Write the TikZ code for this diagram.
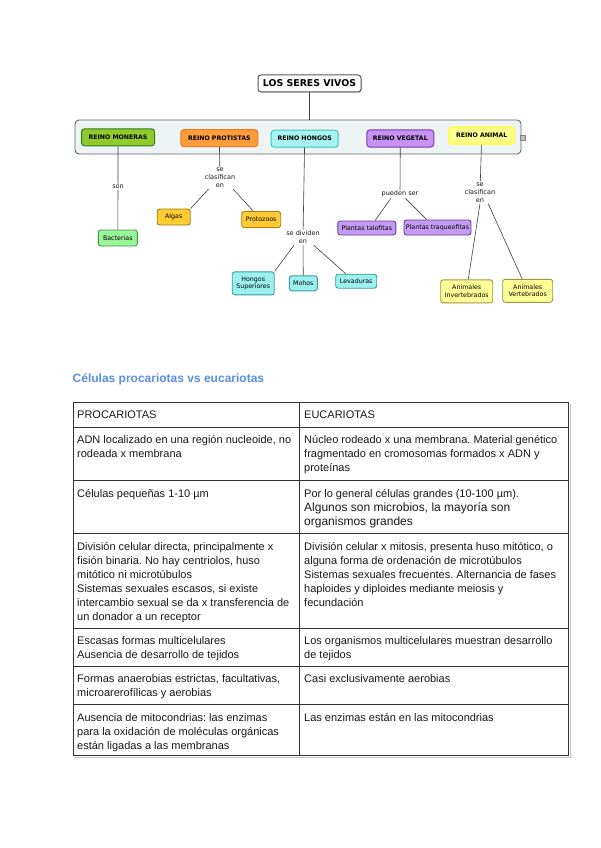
\documentclass[tikz,border=0pt]{standalone}
\usepackage{fontspec}
\setmainfont{Liberation Sans}
\newfontfamily\mapfont{DejaVu Sans}
\usetikzlibrary{calc,shadows}
\frenchspacing
\definecolor{monfill}{HTML}{8FCB2B}\definecolor{mondraw}{HTML}{2F7A1F}
\definecolor{profill}{HTML}{FF9D3C}\definecolor{prodraw}{HTML}{EE7A14}
\definecolor{honfill}{HTML}{A8F3F0}\definecolor{hondraw}{HTML}{3CC4C4}
\definecolor{vegfill}{HTML}{C792F2}\definecolor{vegdraw}{HTML}{7B3CA8}
\definecolor{anifill}{HTML}{FFFF8C}\definecolor{anidraw}{HTML}{FFFF40}
\definecolor{bacfill}{HTML}{9BF59B}\definecolor{bacdraw}{HTML}{3A9A3A}
\definecolor{algfill}{HTML}{FFCC33}\definecolor{algdraw}{HTML}{9A7A10}
\definecolor{hsfill}{HTML}{9CF0F0}\definecolor{hsdraw}{HTML}{3A9C9C}
\definecolor{plafill}{HTML}{C49AF2}\definecolor{pladraw}{HTML}{6A3E9A}
\definecolor{yelfill}{HTML}{FFFF99}\definecolor{yeldraw}{HTML}{9A9A3A}
\definecolor{grpfill}{HTML}{EEF4F5}
\definecolor{headblue}{HTML}{5B8FE3}
\begin{document}
\begin{tikzpicture}[x=1pt,y=-1pt,
  kbox/.style={draw, rounded corners=3pt, line width=1pt, inner sep=0pt, align=center,
    font=\mapfont\bfseries\fontsize{6.2}{7.5}\selectfont},
  leaf/.style={draw, rounded corners=2.5pt, line width=0.9pt, inner sep=0pt, align=center,
    font=\mapfont\fontsize{6.3}{7.6}\selectfont},
  lnk/.style={inner sep=1pt, align=center, font=\mapfont\fontsize{6.5}{8}\selectfont, text=black!90},
  conn/.style={draw=black!75, line width=0.6pt},
  cell/.style={anchor=base west, inner sep=0pt, text=black!90},
  tline/.style={draw=black!80, line width=0.9pt},
  tshadow/.style={draw=black!25, line width=1pt}
]
\useasboundingbox (0,0) rectangle (600,848);
\fill[white] (0,0) rectangle (600,848);

% ---------- concept map ----------
\node[draw=black!65, fill=white, rounded corners=3pt, line width=1pt, inner sep=0pt,
  minimum width=103, minimum height=17,
  font=\mapfont\bfseries\fontsize{9.4}{11}\selectfont,
  drop shadow={shadow xshift=1pt, shadow yshift=-1pt, opacity=0.35}] (title) at (309.5,83.5) {LOS SERES VIVOS};

\node[draw=black!60, fill=grpfill, rounded corners=4pt, line width=0.9pt, inner sep=0pt,
  minimum width=446, minimum height=34] (grp) at (298,137) {};
\node[draw=black!50, fill=black!25, minimum size=5, inner sep=0pt] (icon) at (523,137.5) {};

\node[kbox, fill=monfill, draw=mondraw, minimum width=73, minimum height=17] (mon) at (118,137.3) {REINO MONERAS};
\node[kbox, fill=profill, draw=prodraw, minimum width=77, minimum height=17] (pro) at (219.3,138.2) {REINO PROTISTAS};
\node[kbox, fill=honfill, draw=hondraw, minimum width=67, minimum height=17] (hon) at (304.7,138.7) {REINO HONGOS};
\node[kbox, fill=vegfill, draw=vegdraw, minimum width=67, minimum height=17] (veg) at (400.3,138.5) {REINO VEGETAL};
\node[kbox, fill=anifill, draw=anidraw, line width=1.5pt, minimum width=65, minimum height=17] (ani) at (481.7,135.7) {REINO ANIMAL};

\node[lnk] (son) at (118,186.7) {son};
\node[lnk] (lab1) at (220,178) {se\\clasifican\\en};
\node[lnk] (lab2) at (303,237.5) {se dividen\\en};
\node[lnk] (lab3) at (400,194) {pueden ser};
\node[lnk] (lab4) at (480,192.5) {se\\clasifican\\en};

\node[leaf, fill=bacfill, draw=bacdraw, minimum width=39, minimum height=16] (bac) at (117.8,238) {Bacterias};
\node[leaf, fill=algfill, draw=algdraw, minimum width=33, minimum height=16] (alg) at (173.7,217) {Algas};
\node[leaf, fill=algfill, draw=algdraw!70!orange, minimum width=39, minimum height=16] (prz) at (261.2,219.5) {Protozoos};
\node[leaf, fill=hsfill, draw=hsdraw, minimum width=42, minimum height=23] (hs) at (253.2,283.3) {Hongos\\Superiores};
\node[leaf, fill=hsfill, draw=hsdraw, minimum width=28, minimum height=15] (moh) at (303.3,283.3) {Mohos};
\node[leaf, fill=hsfill, draw=hsdraw, minimum width=41, minimum height=14] (lev) at (356.2,281.2) {Levaduras};
\node[leaf, fill=plafill, draw=pladraw, minimum width=58, minimum height=14] (pt1) at (366.8,228) {Plantas talofitas};
\node[leaf, fill=plafill, draw=pladraw, minimum width=67, minimum height=15] (pt2) at (437.5,227.5) {Plantas traqueofitas};
\node[leaf, fill=yelfill, draw=yeldraw, minimum width=52, minimum height=23] (inv) at (466.7,291.3) {Animales\\Invertebrados};
\node[leaf, fill=yelfill, draw=yeldraw, minimum width=50, minimum height=23] (ver) at (527.7,290.8) {Animales\\Vertebrados};

\draw[conn] (title.south) -- (title.south |- grp.north);
\draw[conn] (mon) -- (son) -- (bac);
\draw[conn] (pro) -- (lab1);
\draw[conn] ($(lab1.south)!0.7!(lab1.south west)$) -- (alg.north east);
\draw[conn] ($(lab1.south)!0.8!(lab1.south east)$) -- ($(prz.north west)!0.3!(prz.north east)$);
\draw[conn] (hon) -- (lab2);
\draw[conn] ($(lab2.south west)!0.5!(lab2.south)$) -- (hs.north east);
\draw[conn] (lab2) -- (moh);
\draw[conn] ($(lab2.south)!0.6!(lab2.south east)$) -- ($(lev.north west)!0.25!(lev.north east)$);
\draw[conn] (veg) -- (lab3);
\draw[conn] ($(lab3.south)!0.47!(lab3.south west)$) -- ($(pt1.north west)!0.64!(pt1.north east)$);
\draw[conn] ($(lab3.south)!0.28!(lab3.south east)$) -- ($(pt2.north west)!0.34!(pt2.north east)$);
\draw[conn] (ani) -- (lab4);
\draw[conn] (lab4.south) -- ($(inv.north west)!0.53!(inv.north east)$);
\draw[conn] ($(lab4.south)!0.5!(lab4.south east)$) -- ($(ver.north west)!0.39!(ver.north east)$);

% ---------- heading ----------
\node[anchor=base west, inner sep=0pt, text=headblue, font=\bfseries\fontsize{12}{14}\selectfont] (head) at (72.5,382) {Células procariotas vs eucariotas};

% ---------- table ----------
\draw[tshadow] (570,404) -- (570,757) -- (75,757);
\draw[tline] (73,402) rectangle (568,755);
\draw[tline] (299.5,402) -- (299.5,755);
\foreach \yy in {427,480,533,628,666,704} \draw[tline] (73,\yy) -- (568,\yy);

\begin{scope}[every node/.append style={font=\fontsize{11}{14}\selectfont}]
\node[cell] (a0) at (77,418) {\parbox[t]{222pt}{PROCARIOTAS}};
\node[cell] (b0) at (304,418) {\parbox[t]{262pt}{EUCARIOTAS}};
\node[cell] (a1) at (77,443) {\parbox[t]{222pt}{ADN localizado en una región nucleoide, no\\rodeada x membrana}};
\node[cell] (b1) at (304,443) {\parbox[t]{262pt}{Núcleo rodeado x una membrana. Material genético\\fragmentado en cromosomas formados x ADN y\\proteínas}};
\node[cell] (a2) at (77,497) {\parbox[t]{222pt}{Células pequeñas 1-10 µm}};
\node[cell] (b2) at (304,497) {\parbox[t]{262pt}{Por lo general células grandes (10-100 µm).\\{\fontsize{12}{14}\selectfont Algunos son microbios, la mayoría son\\organismos grandes}}};
\node[cell] (a3) at (77,550) {\parbox[t]{222pt}{División celular directa, principalmente x\\fisión binaria. No hay centriolos, huso\\mitótico ni microtúbulos\\Sistemas sexuales escasos, si existe\\intercambio sexual se da x transferencia de\\un donador a un receptor}};
\node[cell] (b3) at (304,550) {\parbox[t]{262pt}{División celular x mitosis, presenta huso mitótico, o\\alguna forma de ordenación de microtúbulos\\Sistemas sexuales frecuentes. Alternancia de fases\\haploides y diploides mediante meiosis y\\fecundación}};
\node[cell] (a4) at (77,644) {\parbox[t]{222pt}{Escasas formas multicelulares\\Ausencia de desarrollo de tejidos}};
\node[cell] (b4) at (304,644) {\parbox[t]{262pt}{Los organismos multicelulares muestran desarrollo\\de tejidos}};
\node[cell] (a5) at (77,682) {\parbox[t]{222pt}{Formas anaerobias estrictas, facultativas,\\microarerofílicas y aerobias}};
\node[cell] (b5) at (304,682) {\parbox[t]{262pt}{Casi exclusivamente aerobias}};
\node[cell] (a6) at (77,721) {\parbox[t]{222pt}{Ausencia de mitocondrias: las enzimas\\para la oxidación de moléculas orgánicas\\están ligadas a las membranas}};
\node[cell] (b6) at (304,721) {\parbox[t]{262pt}{Las enzimas están en las mitocondrias}};
\end{scope}
\end{tikzpicture}
\end{document}
